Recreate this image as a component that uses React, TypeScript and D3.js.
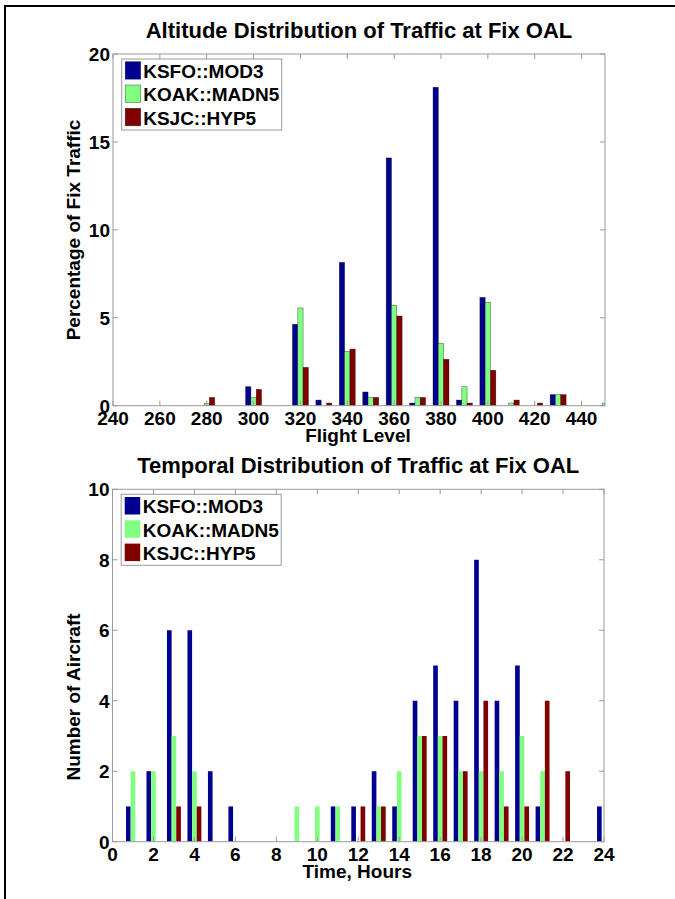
import React from "react";
import * as d3 from "d3";

const seriesNames = ["KSFO::MOD3", "KOAK::MADN5", "KSJC::HYP5"];
const seriesColors = ["#00008F", "#80FF80", "#800000"];

// Altitude distribution (percentage of fix traffic), bins of 10 flight levels
const flightLevels = [240, 250, 260, 270, 280, 290, 300, 310, 320, 330, 340, 350, 360, 370, 380, 390, 400, 410, 420, 430, 440, 450];
const altKSFO = [0, 0, 0, 0, 0, 0, 1.08, 0, 4.63, 0.32, 8.15, 0.78, 14.09, 0.15, 18.11, 0.32, 6.16, 0, 0, 0.63, 0, 0];
const altKOAK = [0, 0, 0, 0, 0.13, 0, 0.47, 0, 5.56, 0, 3.09, 0.47, 5.71, 0.47, 3.55, 1.08, 5.88, 0.15, 0, 0.63, 0, 0.15];
const altKSJC = [0, 0, 0, 0, 0.47, 0, 0.93, 0, 2.18, 0.15, 3.22, 0.47, 5.1, 0.47, 2.64, 0.15, 2.01, 0.32, 0.15, 0.63, 0, 0];
const altXTicks = [240, 260, 280, 300, 320, 340, 360, 380, 400, 420, 440];
const altYTicks = [0, 5, 10, 15, 20];

// Temporal distribution (number of aircraft), hourly bins
const hours = [1, 2, 3, 4, 5, 6, 7, 8, 9, 10, 11, 12, 13, 14, 15, 16, 17, 18, 19, 20, 21, 22, 23, 24];
const timeKSFO = [1, 2, 6, 6, 2, 1, 0, 0, 0, 0, 1, 1, 2, 1, 4, 5, 4, 8, 4, 5, 1, 0, 0, 1];
const timeKOAK = [2, 2, 3, 2, 0, 0, 0, 0, 1, 1, 1, 0, 1, 2, 3, 3, 2, 2, 2, 3, 2, 0, 0, 0];
const timeKSJC = [0, 0, 1, 1, 0, 0, 0, 0, 0, 0, 0, 1, 1, 0, 3, 3, 2, 4, 1, 1, 4, 2, 0, 0];
const timeXTicks = [0, 2, 4, 6, 8, 10, 12, 14, 16, 18, 20, 22, 24];
const timeYTicks = [0, 2, 4, 6, 8, 10];

const FONT = "'Liberation Sans', Arial, Helvetica, sans-serif";
const AXIS_COLOR = "#9a9a9a";

type PanelProps = {
  id: string;
  left: number;
  right: number;
  top: number;
  bottom: number;
  xDomain: [number, number];
  yDomain: [number, number];
  cats: number[];
  series: number[][];
  step: number;
  xTicks: number[];
  yTicks: number[];
  title: string;
  xLabel: string;
  yLabel: string;
  yLabelCenter: number;
  titleBaseline: number;
  xLabelBaseline: number;
  outline: boolean;
};

function Panel(p: PanelProps) {
  const x = d3.scaleLinear().domain(p.xDomain).range([p.left, p.right]);
  const y = d3.scaleLinear().domain(p.yDomain).range([p.bottom, p.top]);
  const barW = (0.68 / 3) * p.step;
  const tickLen = 5;
  const legX = p.left + 8.7;
  const legY = p.top + 5;
  const rowH = 23.3;
  return (
    <g>
      <defs>
        <clipPath id={p.id}>
          <rect x={p.left} y={p.top} width={p.right - p.left} height={p.bottom - p.top} />
        </clipPath>
      </defs>
      <rect x={p.left} y={p.top} width={p.right - p.left} height={p.bottom - p.top} fill="#fff" />
      <g clipPath={`url(#${p.id})`}>
        {p.series.map((vals, si) =>
          vals.map((v, i) => {
            if (v <= 0) return null;
            const x0 = x(p.cats[i] + (si - 1.5) * barW);
            const x1 = x(p.cats[i] + (si - 0.5) * barW);
            return (
              <rect
                key={`${si}-${i}`}
                x={x0}
                y={y(v)}
                width={x1 - x0}
                height={y(0) - y(v)}
                fill={seriesColors[si]}
                stroke={p.outline ? "#000" : "none"}
                strokeOpacity={0.55}
                strokeWidth={0.6}
              />
            );
          })
        )}
      </g>
      {/* axis box */}
      <rect x={p.left} y={p.top} width={p.right - p.left} height={p.bottom - p.top} fill="none" stroke={AXIS_COLOR} strokeWidth={1} />
      {p.xTicks.map((t) => (
        <g key={`xt${t}`}>
          <line x1={x(t)} x2={x(t)} y1={p.bottom} y2={p.bottom - tickLen} stroke={AXIS_COLOR} />
          <line x1={x(t)} x2={x(t)} y1={p.top} y2={p.top + tickLen} stroke={AXIS_COLOR} />
          <text x={x(t)} y={p.bottom + 19.3} textAnchor="middle" fontFamily={FONT} fontWeight="bold" fontSize={19} fill="#000">
            {t}
          </text>
        </g>
      ))}
      {p.yTicks.map((t) => (
        <g key={`yt${t}`}>
          <line x1={p.left} x2={p.left + tickLen} y1={y(t)} y2={y(t)} stroke={AXIS_COLOR} />
          <line x1={p.right} x2={p.right - tickLen} y1={y(t)} y2={y(t)} stroke={AXIS_COLOR} />
          <text x={p.left - 3} y={y(t)} dy="0.36em" textAnchor="end" fontFamily={FONT} fontWeight="bold" fontSize={19} fill="#000">
            {t}
          </text>
        </g>
      ))}
      <text x={(p.left + p.right) / 2} y={p.titleBaseline} textAnchor="middle" fontFamily={FONT} fontWeight="bold" fontSize={22} fill="#000">
        {p.title}
      </text>
      <text x={(p.left + p.right) / 2 - 1} y={p.xLabelBaseline} textAnchor="middle" fontFamily={FONT} fontWeight="bold" fontSize={19} fill="#000">
        {p.xLabel}
      </text>
      <text
        transform={`translate(80,${p.yLabelCenter}) rotate(-90)`}
        textAnchor="middle"
        fontFamily={FONT}
        fontWeight="bold"
        fontSize={19}
        fill="#000"
      >
        {p.yLabel}
      </text>
      {/* legend */}
      <rect x={legX} y={legY} width={160} height={71} fill="#fff" stroke={AXIS_COLOR} strokeWidth={1} />
      {seriesNames.map((n, i) => (
        <g key={n}>
          <rect
            x={legX + 3.5}
            y={legY + 2.7 + i * rowH}
            width={15.5}
            height={17.5}
            fill={seriesColors[i]}
            stroke={p.outline ? "#000" : "none"}
            strokeOpacity={0.55}
            strokeWidth={0.6}
          />
          <text x={legX + 21.5} y={legY + 19 + i * rowH} fontFamily={FONT} fontWeight="bold" fontSize={19} fill="#000">
            {n}
          </text>
        </g>
      ))}
    </g>
  );
}

export default function App() {
  return (
    <svg
      width={675}
      height={899}
      viewBox="0 0 675 899"
      style={{ position: "absolute", left: 0, top: 0, background: "#fff" }}
    >
      <rect x={0} y={0} width={675} height={899} fill="#fff" />
      <line x1={4} x2={675} y1={6} y2={6} stroke="#000" strokeWidth={2} />
      <line x1={5} x2={5} y1={5} y2={899} stroke="#000" strokeWidth={2} />
      <Panel
        id="clipAlt"
        left={113}
        right={605}
        top={54}
        bottom={405.7}
        xDomain={[240, 450]}
        yDomain={[0, 20]}
        cats={flightLevels}
        series={[altKSFO, altKOAK, altKSJC]}
        step={10}
        xTicks={altXTicks}
        yTicks={altYTicks}
        title="Altitude Distribution of Traffic at Fix OAL"
        xLabel="Flight Level"
        yLabel="Percentage of Fix Traffic"
        yLabelCenter={230}
        titleBaseline={38}
        xLabelBaseline={442}
        outline={true}
      />
      <Panel
        id="clipTime"
        left={112.5}
        right={604}
        top={489.3}
        bottom={841.7}
        xDomain={[0, 24]}
        yDomain={[0, 10]}
        cats={hours}
        series={[timeKSFO, timeKOAK, timeKSJC]}
        step={1}
        xTicks={timeXTicks}
        yTicks={timeYTicks}
        title="Temporal Distribution of Traffic at Fix OAL"
        xLabel="Time, Hours"
        yLabel="Number of Aircraft"
        yLabelCenter={697}
        titleBaseline={473}
        xLabelBaseline={878}
        outline={false}
      />
    </svg>
  );
}
